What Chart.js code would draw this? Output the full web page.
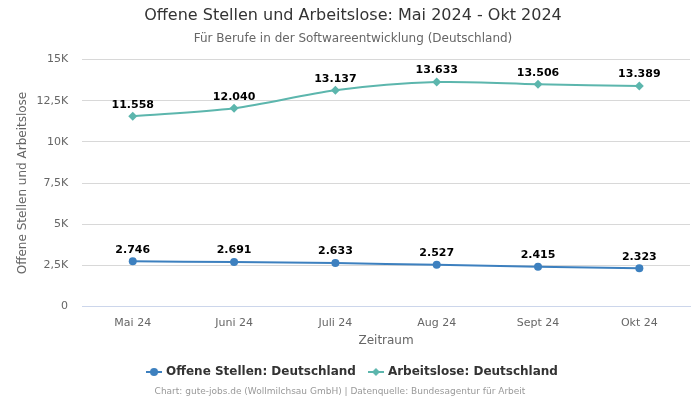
<!DOCTYPE html>
<html>
<head>
<meta charset="utf-8">
<script src="https://cdn.jsdelivr.net/npm/chart.js@4.4.1/dist/chart.umd.min.js"></script>
<style>
  html, body { margin: 0; padding: 0; background: #fff; }
  #wrap { width: 700px; height: 400px; position: relative; }
</style>
</head>
<body>
<div id="wrap"><canvas id="chart"></canvas></div>
<script>
const months = ['Mai 24', 'Juni 24', 'Juli 24', 'Aug 24', 'Sept 24', 'Okt 24'];
const offeneStellen = [2746, 2691, 2633, 2527, 2415, 2323];
const arbeitslose = [11558, 12040, 13137, 13633, 13506, 13389];
const yTicks = [0, 2500, 5000, 7500, 10000, 12500, 15000];

const blue = '#3d80bf';
const teal = '#5cb6ad';
const font = 'DejaVu Sans';

function fmt(v) {
    return v.toLocaleString('de-DE');
}

// kleine Legenden-Symbole: Linie mit Marker
function legendIcon(color, style) {
    const c = document.createElement('canvas');
    c.width = 16; c.height = 10;
    const ctx = c.getContext('2d');
    ctx.strokeStyle = color;
    ctx.lineWidth = 2;
    ctx.beginPath();
    ctx.moveTo(0, 5); ctx.lineTo(16, 5);
    ctx.stroke();
    ctx.fillStyle = color;
    ctx.beginPath();
    if (style === 'circle') {
        ctx.arc(8, 5, 4, 0, Math.PI * 2);
    } else {
        ctx.moveTo(8, 1); ctx.lineTo(12, 5); ctx.lineTo(8, 9); ctx.lineTo(4, 5);
        ctx.closePath();
    }
    ctx.fill();
    return c;
}

const valueLabels = {
    id: 'valueLabels',
    afterDatasetsDraw(chart) {
        const ctx = chart.ctx;
        ctx.save();
        ctx.font = 'bold 11px ' + font;
        ctx.fillStyle = '#000';
        ctx.textAlign = 'center';
        ctx.textBaseline = 'bottom';
        chart.data.datasets.forEach((ds, i) => {
            chart.getDatasetMeta(i).data.forEach((pt, j) => {
                ctx.fillText(fmt(ds.data[j]), pt.x, pt.y - 6);
            });
        });
        ctx.restore();
    }
};

const footer = {
    id: 'footer',
    afterDraw(chart) {
        const ctx = chart.ctx;
        ctx.save();
        ctx.font = '9px ' + font;
        ctx.fillStyle = '#999';
        ctx.textAlign = 'center';
        ctx.textBaseline = 'middle';
        ctx.fillText('Chart: gute-jobs.de (Wollmilchsau GmbH) | Datenquelle: Bundesagentur für Arbeit', 340, 392);
        ctx.restore();
    }
};

new Chart(document.getElementById('chart'), {
    type: 'line',
    data: {
        labels: months,
        datasets: [{
            label: 'Offene Stellen: Deutschland',
            data: offeneStellen,
            borderColor: blue,
            backgroundColor: blue,
            borderWidth: 2,
            pointStyle: 'circle',
            pointRadius: 4,
            pointBorderWidth: 0,
            pointHoverRadius: 4,
            tension: 0.3,
            fill: false
        }, {
            label: 'Arbeitslose: Deutschland',
            data: arbeitslose,
            borderColor: teal,
            backgroundColor: teal,
            borderWidth: 2,
            pointStyle: 'rectRot',
            pointRadius: 4.5,
            pointBorderWidth: 0,
            pointHoverRadius: 4.5,
            tension: 0.3,
            fill: false
        }]
    },
    options: {
        responsive: true,
        maintainAspectRatio: false,
        animation: false,
        layout: { padding: { left: 16, right: 10, bottom: 12 } },
        plugins: {
            title: {
                display: true,
                text: 'Offene Stellen und Arbeitslose: Mai 2024 - Okt 2024',
                color: '#333',
                font: { family: font, size: 16, weight: 'normal' },
                padding: { top: 6, bottom: 6 }
            },
            subtitle: {
                display: true,
                text: 'Für Berufe in der Softwareentwicklung (Deutschland)',
                color: '#666',
                font: { family: font, size: 12 },
                padding: { bottom: 14 }
            },
            legend: {
                position: 'bottom',
                labels: {
                    color: '#333',
                    font: { family: font, size: 12, weight: 'bold' },
                    usePointStyle: true,
                    padding: 14,
                    generateLabels(chart) {
                        return chart.data.datasets.map((ds, i) => ({
                            text: ds.label,
                            fontColor: '#333',
                            pointStyle: legendIcon(ds.borderColor, ds.pointStyle),
                            datasetIndex: i,
                            hidden: false,
                            lineWidth: 0
                        }));
                    }
                }
            },
            tooltip: { enabled: false }
        },
        scales: {
            x: {
                offset: true,
                grid: { display: false },
                border: { color: '#ccd6eb' },
                ticks: { color: '#666', font: { family: font, size: 11 }, padding: 2 },
                title: { display: true, text: 'Zeitraum', color: '#666', font: { family: font, size: 12 }, padding: { top: 2 } }
            },
            y: {
                min: 0,
                max: 15000,
                afterBuildTicks(axis) {
                    axis.ticks = yTicks.map(v => ({ value: v }));
                },
                grid: { color: '#d8d8d8', drawTicks: false },
                border: { display: false },
                ticks: {
                    color: '#666',
                    font: { family: font, size: 11 },
                    padding: 14,
                    callback: v => v === 0 ? '0' : fmt(v / 1000) + 'K'
                },
                title: { display: true, text: 'Offene Stellen und Arbeitslose', color: '#666', font: { family: font, size: 12 }, padding: { top: 0, bottom: -8 } }
            }
        }
    },
    plugins: [valueLabels, footer]
});
</script>
</body>
</html>
